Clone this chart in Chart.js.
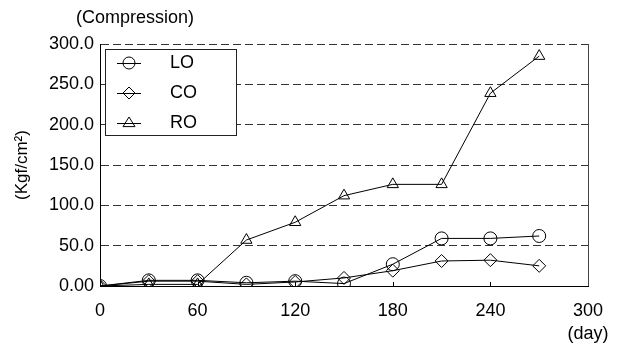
<!DOCTYPE html>
<html>
<head>
<meta charset="utf-8">
<script src="https://cdn.jsdelivr.net/npm/chart.js@4/dist/chart.umd.min.js"></script>
<style>
html,body{margin:0;padding:0;background:#fff;}
#wrap{width:618px;height:347px;position:relative;}
</style>
</head>
<body>
<div id="wrap"><canvas id="c" width="618" height="347"></canvas></div>
<script>
const days = [0, 30, 60, 90, 120, 150, 180, 210, 240, 270];
const LO = [0, 7, 7, 4, 6, 3, 27, 59, 59, 62];
const CO = [0, 6, 6, 2, 5, 10, 19, 31, 32, 25];
const RO = [0, 2, 2, 57, 79, 112, 126, 126, 239, 285];
const seriesNames = ['LO', 'CO', 'RO'];
const pointStyles = ['circle', 'rectRot', 'triangle'];
const xTicks = [0, 60, 120, 180, 240, 300];
const yTicks = [0, 50, 100, 150, 200, 250, 300];
const chartTitle = '(Compression)';
const yTitle = '(Kgf/cm\u00B2)';
const xUnit = '(day)';

const FONT = '"Liberation Sans", Arial, sans-serif';

function mk(vals) { return days.map((d, i) => ({x: d, y: vals[i]})); }
const seriesVals = [LO, CO, RO];

function drawMarker(ctx, style, x, y, r) {
  ctx.beginPath();
  if (style === 'circle') {
    ctx.arc(x, y, r, 0, Math.PI * 2);
  } else if (style === 'rectRot') {
    ctx.moveTo(x, y - r); ctx.lineTo(x + r, y); ctx.lineTo(x, y + r); ctx.lineTo(x - r, y); ctx.closePath();
  } else {
    ctx.moveTo(x, y - r); ctx.lineTo(x + r, y + r * 0.6); ctx.lineTo(x - r, y + r * 0.6); ctx.closePath();
  }
  ctx.stroke();
}

const extras = {
  id: 'extras',
  afterDatasetsDraw(chart) {
    const ctx = chart.ctx;
    const a = chart.chartArea;
    const xs = chart.scales.x;
    ctx.save();
    // right border
    ctx.strokeStyle = '#444';
    ctx.lineWidth = 1;
    ctx.beginPath(); ctx.moveTo(a.right + 0.5, a.top); ctx.lineTo(a.right + 0.5, a.bottom); ctx.stroke();
    // small inner tick marks on the bottom axis
    ctx.strokeStyle = '#000';
    xTicks.forEach(v => {
      if (v > 0 && v < 300) {
        const px = Math.round(xs.getPixelForValue(v)) + 0.5;
        ctx.beginPath(); ctx.moveTo(px, a.bottom); ctx.lineTo(px, a.bottom - 4); ctx.stroke();
      }
    });
    // legend box
    const bx = a.left + 5, by = a.top + 5, bw = 131, bh = 86;
    ctx.fillStyle = '#fff';
    ctx.fillRect(bx, by, bw, bh);
    ctx.strokeStyle = '#222';
    ctx.strokeRect(bx + 0.5, by + 0.5, bw, bh);
    ctx.font = '18px ' + FONT;
    ctx.textBaseline = 'middle';
    ctx.textAlign = 'left';
    seriesNames.forEach((n, i) => {
      const yy = by + 14 + i * 30;
      ctx.strokeStyle = '#000';
      ctx.lineWidth = 1;
      ctx.beginPath(); ctx.moveTo(bx + 12, yy + 0.5); ctx.lineTo(bx + 36, yy + 0.5); ctx.stroke();
      drawMarker(ctx, pointStyles[i], bx + 24, yy, 6);
      ctx.fillStyle = '#000';
      ctx.fillText(n, bx + 65, yy);
    });
    // titles
    ctx.font = '18px ' + FONT;
    ctx.textAlign = 'center';
    ctx.fillText(chartTitle, 135, 18);
    ctx.fillText(xUnit, a.right, 334);
    ctx.restore();
  }
};

new Chart(document.getElementById('c'), {
  type: 'line',
  data: {
    datasets: seriesVals.map((v, i) => ({
      label: seriesNames[i],
      data: mk(v),
      borderColor: '#000',
      borderWidth: 1,
      pointStyle: pointStyles[i],
      pointRadius: 6.5,
      pointBorderColor: '#000',
      pointBorderWidth: 1,
      pointBackgroundColor: 'rgba(0,0,0,0)',
      tension: 0
    }))
  },
  options: {
    responsive: false,
    animation: false,
    events: [],
    layout: {padding: {left: 0, right: 30, top: 44, bottom: 0}},
    plugins: {legend: {display: false}, tooltip: {enabled: false}},
    scales: {
      x: {
        type: 'linear', min: 0, max: 300,
        afterBuildTicks(s) { s.ticks = xTicks.map(v => ({value: v})); },
        afterFit(s) { s.height = 61; },
        ticks: {font: {family: FONT, size: 18}, color: '#000', padding: 14, maxRotation: 0},
        grid: {drawTicks: false, color: 'rgba(0,0,0,0)'},
        border: {display: true, color: '#000', width: 1}
      },
      y: {
        min: 0, max: 300,
        afterBuildTicks(s) { s.ticks = yTicks.map(v => ({value: v})); },
        afterFit(s) { s.width = 100; },
        ticks: {
          font: {family: FONT, size: 18}, color: '#000', padding: 6,
          callback: v => v === 0 ? '0.00' : v.toFixed(1)
        },
        title: {display: true, text: yTitle, font: {family: FONT, size: 17}, color: '#000', padding: {top: 12, bottom: 0}},
        grid: {drawTicks: false, color: c => (c.tick && c.tick.value > 0) ? '#333' : 'rgba(0,0,0,0)', lineWidth: 1},
        border: {display: true, color: '#000', width: 1, dash: [8, 4]}
      }
    }
  },
  plugins: [extras]
});
</script>
</body>
</html>
